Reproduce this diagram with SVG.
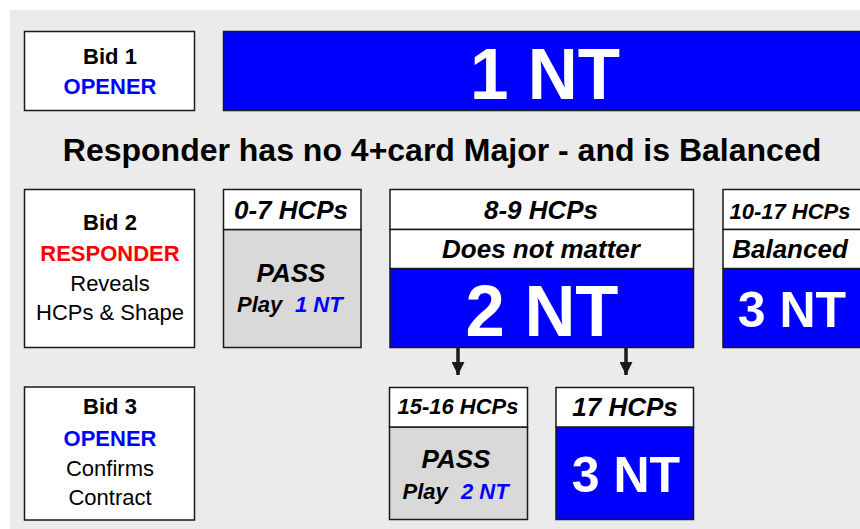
<svg xmlns="http://www.w3.org/2000/svg" width="860" height="529" viewBox="0 0 860 529">
<defs>
<style>
text{font-family:"Liberation Sans",Arial,sans-serif;}
.box{stroke:#1a1a1a;stroke-width:1.5;}
.w{fill:#ffffff;}
.b{fill:#0000ff;}
.g{fill:#d9d9d9;}
.c{text-anchor:middle;}
.bd{font-weight:bold;}
.bi{font-weight:bold;font-style:italic;}
.lbl{font-size:22px;}
.hdr{font-size:26px;font-weight:bold;font-style:italic;fill:#000;text-anchor:middle;}
.hdrs{font-size:22px;font-weight:bold;font-style:italic;fill:#000;text-anchor:middle;}
.big{font-size:72px;font-weight:bold;fill:#fff;text-anchor:middle;}
.mid{font-size:50px;font-weight:bold;fill:#fff;text-anchor:middle;}
.blue{fill:#0000ff;}
.red{fill:#ff0000;}
.conn{stroke:#1a1a1a;stroke-width:3.5;fill:none;}
</style>
<marker id="ahd" viewBox="0 0 13 13" refX="6.5" refY="13" markerWidth="13" markerHeight="13" markerUnits="userSpaceOnUse" orient="0">
<path d="M0,0 L13,0 L6.5,13 Z" fill="#1a1a1a"/>
</marker>
</defs>
<rect x="0" y="0" width="860" height="529" fill="#ffffff"/>
<rect x="10" y="10" width="850" height="519" fill="#ebebeb"/>

<g id="bid1">
<rect class="box w" x="24.5" y="31.5" width="170" height="79"/>
<text class="c bd lbl" x="110" y="64" fill="#000">Bid 1</text>
<text class="c bd lbl blue" x="110" y="94">OPENER</text>
</g>

<g id="one-nt">
<rect class="box b" x="223.5" y="31.5" width="650" height="79"/>
<text class="big" x="545" y="99" textLength="150" lengthAdjust="spacingAndGlyphs">1 NT</text>
</g>

<g id="title">
<text class="c bd" x="442" y="161" font-size="32" fill="#000">Responder has no 4+card Major - and is Balanced</text>
</g>

<g id="bid2">
<rect class="box w" x="24.5" y="189.5" width="170" height="158"/>
<text class="c bd lbl" x="110" y="230" fill="#000">Bid 2</text>
<text class="c bd lbl red" x="110" y="261">RESPONDER</text>
<text class="c lbl" x="110" y="291" fill="#000">Reveals</text>
<text class="c lbl" x="110" y="320" fill="#000">HCPs &amp; Shape</text>
</g>

<g id="pass1">
<rect class="box g" x="223.5" y="229.5" width="137.5" height="118"/>
<rect class="box w" x="223.5" y="189.5" width="137.5" height="40"/>
<text class="hdr" x="291" y="219">0-7 HCPs</text>
<text class="hdr" x="291" y="282">PASS</text>
<text class="bi lbl" x="237" y="312" fill="#000">Play<tspan class="blue" x="295">1 NT</tspan></text>
</g>

<g id="two-nt">
<rect class="box b" x="390" y="268.5" width="303.5" height="79"/>
<rect class="box w" x="390" y="189.5" width="303.5" height="40"/>
<rect class="box w" x="390" y="229.5" width="303.5" height="39"/>
<text class="hdr" x="541" y="219">8-9 HCPs</text>
<text class="hdr" x="541" y="258">Does not matter</text>
<text class="big" x="542" y="336" textLength="153" lengthAdjust="spacingAndGlyphs">2 NT</text>
</g>

<g id="three-nt-a">
<rect class="box b" x="723" y="268.5" width="150" height="79"/>
<rect class="box w" x="723" y="189.5" width="150" height="40"/>
<rect class="box w" x="723" y="229.5" width="150" height="39"/>
<text class="hdrs" x="790" y="219">10-17 HCPs</text>
<text class="hdr" x="790" y="258">Balanced</text>
<text class="mid" x="792" y="327">3 NT</text>
</g>

<g id="bid3">
<rect class="box w" x="24.5" y="387" width="170" height="133"/>
<text class="c bd lbl" x="110" y="414" fill="#000">Bid 3</text>
<text class="c bd lbl blue" x="110" y="446">OPENER</text>
<text class="c lbl" x="110" y="476" fill="#000">Confirms</text>
<text class="c lbl" x="110" y="505" fill="#000">Contract</text>
</g>

<g id="pass2">
<rect class="box g" x="389.5" y="427" width="138" height="92.5"/>
<rect class="box w" x="389.5" y="387.5" width="138" height="39.5"/>
<text class="hdrs" x="458" y="414">15-16 HCPs</text>
<text class="hdr" x="456" y="468">PASS</text>
<text class="bi lbl" x="402.5" y="499" fill="#000">Play<tspan class="blue" x="461">2 NT</tspan></text>
</g>

<g id="three-nt-b">
<rect class="box b" x="556" y="427" width="137.5" height="92.5"/>
<rect class="box w" x="556" y="387.5" width="137.5" height="39.5"/>
<text class="hdr" x="625" y="416">17 HCPs</text>
<text class="mid" x="626" y="492">3 NT</text>
</g>

<g id="connectors">
<line class="conn" x1="458" y1="348" x2="458" y2="375" marker-end="url(#ahd)"/>
<line class="conn" x1="626" y1="348" x2="626" y2="375" marker-end="url(#ahd)"/>
</g>
</svg>
